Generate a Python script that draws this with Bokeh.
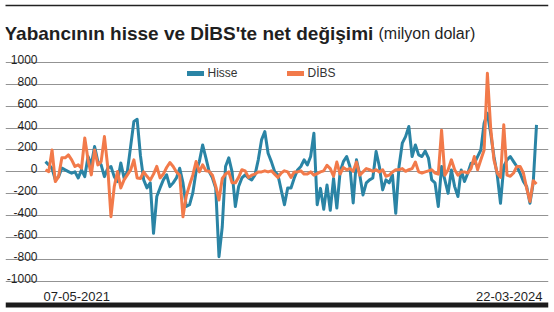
import pandas as pd
from bokeh.plotting import figure
from bokeh.models import Range1d, ColumnDataSource, FixedTicker, Legend, LegendItem
from bokeh.core.properties import value
from bokeh.embed import file_html
from bokeh.resources import INLINE

# ---------------- data ----------------
title_main = "Yabancının hisse ve DİBS'te net değişimi"
title_unit = "(milyon dolar)"
series_names = ["Hisse", "DİBS"]
first_date = "2021-05-07"
n_weeks = 151
x_tick_labels = ["07-05-2021", "22-03-2024"]
y_ticks = [1000, 800, 600, 400, 200, 0, -200, -400, -600, -800, -1000]
y_tick_labels = ["1000", "800", "600", "400", "200", "0", "-200", "-400", "-600", "-800", "-1000"]

hisse = [
    94, 64, 33, -73, -43, 35, 18, 3, -12, 0,
    -55, 18, -43, 140, 64, 231, 94, 64, -43, 33,
    49, -43, -88, 82, -55, 3, 231, 460, 480, 150,
    -73, -146, -100, -560, -225, -146, -73, -27, -134, -100,
    -55, 33, -100, -316, -300, -192, 3, 94, 246, 128,
    3, -55, -146, -773, -500, 49, 128, 0, -316, -134,
    -55, -27, -55, -73, -27, 110, 292, 368, 170, 94,
    3, -27, -164, -300, -146, -146, -55, 18, 49, 110,
    64, 140, 353, -300, -150, -340, -120, -350, -60, -330,
    0, 94, 140, 49, -283, 110, -27, -210, -100, -73,
    -55, 186, 49, -164, -73, -100, -27, -378, 49, 262,
    322, 414, 140, 246, 155, 140, 190, 125, -73, -100,
    -315, 49, -73, -195, 18, -134, -225, 18, -88, -12,
    79, 79, 140, 200, 444, 535, 353, 140, -27, -286,
    49, 110, 140, 94, 49, -12, -88, -134, -286, -100,
    429,
]

dibs = [
    18, 3, 200, -88, -43, 128, 128, 155, 110, 49,
    64, 33, 310, 110, -27, 200, 64, 94, 322, 49,
    -408, -134, 3, -146, -73, -27, 18, 110, -55, -60,
    0, -40, -75, -20, 50, -55, -20, 40, 85, 50,
    0, -30, -410, -220, -120, -30, 95, 0, 65, 10,
    5, -30, -130, -256, -60, -20, 0, -100, -100, -50,
    20, 10, -50, -30, -20, 0, 0, 10, 0, 10,
    -20, -50, -10, 10, 0, -50, 0, 0, 10, -20,
    -20, 0, -30, -15, 0, 10, 60, 30, -40, 90,
    -20, 40, 20, 30, 5, 90, -30, 0, 30, 20,
    5, 20, 0, 20, -40, -30, 0, 20, 20, 30,
    5, 20, 30, 90, 0, -10, 0, 10, 20, -10,
    -20, 380, -30, 20, 110, 20, -30, 0, 0, -10,
    30, 140, 20, 110, 200, 900, 400, 110, -10, -50,
    430, -30, -40, -10, 50, 50, -10, -150, -270, -80,
    -110,
]

dates = pd.date_range(first_date, periods=n_weeks, freq="7D")

# ---------------- layout helpers (pixel -> data) ----------------
W, H = 554, 312
FRAME_L, FRAME_R = 5, 548
PX_START, PX_END = 45.0, 536.0
T0 = dates[0]
PX_PER_DAY = (PX_END - PX_START) / (dates[-1] - dates[0]).days
ZERO_PY = 171.4
PX_PER_UNIT = 0.10965


def px2x(px):
    return (T0 + pd.Timedelta(days=(px - PX_START) / PX_PER_DAY)).value / 1e6


def px2y(py):
    return (ZERO_PY - py) / PX_PER_UNIT


BLUE = "#2a84a5"
ORANGE = "#f27a4a"
TEXT = "#1f1f1f"
FONT = "Liberation Sans"

p = figure(
    width=W, height=H, output_backend="svg", toolbar_location=None,
    x_axis_type="datetime", x_axis_location=None, y_axis_location=None,
    x_range=Range1d(px2x(FRAME_L), px2x(FRAME_R)),
    y_range=Range1d(px2y(H), px2y(0)),
    min_border_left=FRAME_L, min_border_right=W - FRAME_R,
    min_border_top=0, min_border_bottom=0,
    outline_line_color=None, background_fill_color="white", border_fill_color="white",
)

p.xgrid.visible = False
p.ygrid.ticker = FixedTicker(ticks=y_ticks)
p.ygrid.grid_line_color = "#939393"
p.ygrid.grid_line_width = 1.2

src = ColumnDataSource(dict(date=dates, hisse=hisse, dibs=dibs))
p.line("date", "hisse", source=src, color=BLUE, line_width=3, line_join="round")
p.line("date", "dibs", source=src, color=ORANGE, line_width=3, line_join="round")

# legend swatches: thicker lines with a single undefined point (nothing drawn in the plot)
nan = float("nan")
lh = p.line(x=[dates[0]], y=[nan], color=BLUE, line_width=5, line_cap="round")
ld = p.line(x=[dates[0]], y=[nan], color=ORANGE, line_width=5, line_cap="round")
legend = Legend(
    items=[LegendItem(label=series_names[0], renderers=[lh]),
           LegendItem(label=series_names[1], renderers=[ld])],
    orientation="horizontal", location=(181.5, H - 79.7),
    glyph_width=17, glyph_height=14, label_height=14, label_standoff=4, spacing=49,
    padding=0, margin=0, border_line_color=None, background_fill_alpha=0,
    label_text_font=FONT, label_text_font_size="12px", label_text_color="#333333",
)
p.add_layout(legend)

# title
p.text(x=[px2x(4)], y=[px2y(33)], text=[title_main], text_font=value(FONT),
       text_font_style="bold", text_font_size="19px", text_color=TEXT,
       text_align="left", text_baseline="alphabetic")
p.text(x=[px2x(378)], y=[px2y(33)], text=[title_unit], text_font=value(FONT),
       text_font_size="16px", text_color=TEXT, text_align="left", text_baseline="alphabetic")

# y tick labels (sit just above their gridline)
ysrc = ColumnDataSource(dict(x=[px2x(37)] * len(y_ticks), y=y_ticks, t=y_tick_labels))
p.text("x", "y", text="t", source=ysrc, text_font=value(FONT), text_font_size="12px",
       text_color=TEXT, text_align="right", text_baseline="alphabetic", y_offset=-3)

# x tick labels
p.text(x=[dates[0]], y=[px2y(296)], text=[x_tick_labels[0]], text_font=value(FONT),
       text_font_size="13px", text_color=TEXT, text_align="left", text_baseline="alphabetic",
       x_offset=-2)
p.text(x=[dates[-1]], y=[px2y(296)], text=[x_tick_labels[1]], text_font=value(FONT),
       text_font_size="13px", text_color=TEXT, text_align="right", text_baseline="alphabetic",
       x_offset=6)

# decorative rules
p.segment(x0=[px2x(4)], x1=[px2x(548)], y0=[px2y(5)], y1=[px2y(5)], color="#222222", line_width=1.5)
p.quad(left=[px2x(FRAME_L)], right=[px2x(FRAME_R)], top=[px2y(302)], bottom=[px2y(307)],
       color="#1c1c1c", line_color=None)

open("out.html", "w").write(file_html(p, INLINE))
